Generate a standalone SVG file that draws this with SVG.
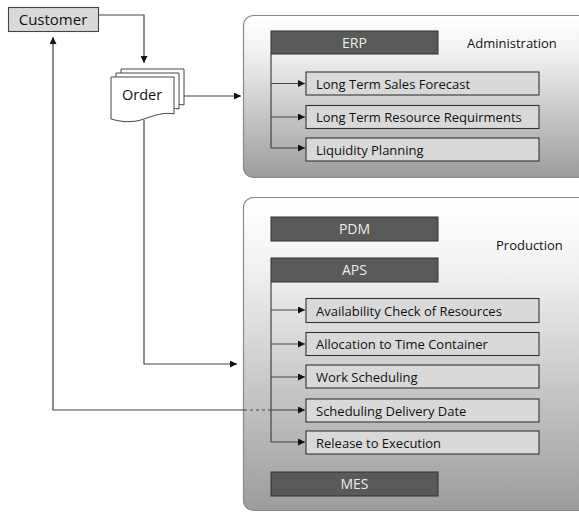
<svg xmlns="http://www.w3.org/2000/svg" width="579" height="512" viewBox="0 0 579 512">
<defs>
<linearGradient id="cg" x1="0" y1="0" x2="0" y2="1">
<stop offset="0" stop-color="#ffffff"/>
<stop offset="0.2" stop-color="#f4f4f4"/>
<stop offset="1" stop-color="#9c9c9c"/>
</linearGradient>
<marker id="ah" viewBox="0 0 10 10" refX="10" refY="5" markerWidth="7" markerHeight="7" markerUnits="userSpaceOnUse" orient="auto">
<path d="M0,0 L10,5 L0,10 Z" fill="#111"/>
</marker>
<style>
.cont{fill:url(#cg);stroke:#8a8a8a;stroke-width:1.2}
.dark{fill:#595959;stroke:#333;stroke-width:1}
.item{fill:#d9d9d9;stroke:#333;stroke-width:1.1}
.dt{font-family:"Open Sans","Liberation Sans",sans-serif;font-size:14px;fill:#ececec;text-anchor:middle}
.it{font-family:"Open Sans","Liberation Sans",sans-serif;font-size:13px;fill:#111}
.lab{font-family:"Open Sans","Liberation Sans",sans-serif;font-size:13px;fill:#111}
.ln{fill:none;stroke:#444;stroke-width:1.2}
.doc{fill:#fff;stroke:#444;stroke-width:1}
</style>
</defs>

<g id="admin">
<rect class="cont" x="243.5" y="15.5" width="360" height="162" rx="10"/>
<text class="lab" x="467" y="48">Administration</text>
</g>
<g id="production">
<rect class="cont" x="243.5" y="197.5" width="360" height="313" rx="10"/>
<text class="lab" x="496" y="250">Production</text>
</g>

<g id="customer">
<rect x="8.5" y="7.5" width="90" height="24" fill="#d9d9d9" stroke="#444" stroke-width="1.1"/>
<text class="lab" x="53" y="25" text-anchor="middle" style="font-size:15px">Customer</text>
</g>

<g id="order">
<path class="doc" d="M121,69 H184 V105 C175,103 165,106 154,110 S131,112 121,110 Z"/>
<path class="doc" d="M116,73 H179 V109 C170,107 160,110 149,114 S126,116 116,114 Z"/>
<path class="doc" d="M111,77 H174 V114 C165,112 155,115 144,119 S121,122 111,119 Z"/>
<text class="lab" x="142" y="100" text-anchor="middle" style="font-size:14.5px">Order</text>
</g>

<g id="erp"><rect class="dark" x="271" y="31" width="167" height="23"/><text class="dt" x="354.5" y="48">ERP</text></g>
<g id="lt-sales"><rect class="item" x="306" y="72" width="233" height="23"/><text class="it" x="316" y="88.5">Long Term Sales Forecast</text></g>
<g id="lt-res"><rect class="item" x="306" y="105.5" width="233" height="23"/><text class="it" x="316" y="122">Long Term Resource Requirments</text></g>
<g id="liquidity"><rect class="item" x="306" y="138" width="233" height="23"/><text class="it" x="316" y="154.5">Liquidity Planning</text></g>

<g id="pdm"><rect class="dark" x="271" y="217" width="167" height="24"/><text class="dt" x="354.5" y="234">PDM</text></g>
<g id="aps"><rect class="dark" x="271" y="258" width="167" height="24"/><text class="dt" x="354.5" y="275">APS</text></g>
<g id="avail"><rect class="item" x="306" y="298.5" width="233" height="24"/><text class="it" x="316" y="315.5">Availability Check of Resources</text></g>
<g id="alloc"><rect class="item" x="306" y="332.5" width="233" height="23"/><text class="it" x="316" y="349">Allocation to Time Container</text></g>
<g id="work"><rect class="item" x="306" y="365" width="233" height="23"/><text class="it" x="316" y="381.5">Work Scheduling</text></g>
<g id="delivery"><rect class="item" x="306" y="399" width="233" height="23"/><text class="it" x="316" y="415.5">Scheduling Delivery Date</text></g>
<g id="release"><rect class="item" x="306" y="431" width="233" height="23"/><text class="it" x="316" y="447.5">Release to Execution</text></g>
<g id="mes"><rect class="dark" x="271" y="472" width="167" height="24"/><text class="dt" x="354.5" y="489">MES</text></g>

<g id="connectors">
<path class="ln" d="M98.5,15 H144 V63" marker-end="url(#ah)"/>
<path class="ln" d="M184,96 H241" marker-end="url(#ah)"/>
<path class="ln" d="M144,120 V364 H237" marker-end="url(#ah)"/>
<path class="ln" d="M244,410 H53 V37" marker-end="url(#ah)"/>
<path class="ln" d="M244,410 H271" stroke-dasharray="3,3"/>
<path class="ln" d="M271,54 V148"/>
<path class="ln" d="M271,83.5 H305" marker-end="url(#ah)"/>
<path class="ln" d="M271,117 H305" marker-end="url(#ah)"/>
<path class="ln" d="M271,148 H305" marker-end="url(#ah)"/>
<path class="ln" d="M271,282 V442"/>
<path class="ln" d="M271,310 H305" marker-end="url(#ah)"/>
<path class="ln" d="M271,344 H305" marker-end="url(#ah)"/>
<path class="ln" d="M271,377 H305" marker-end="url(#ah)"/>
<path class="ln" d="M271,410 H305" marker-end="url(#ah)"/>
<path class="ln" d="M271,442 H305" marker-end="url(#ah)"/>
</g>
</svg>
